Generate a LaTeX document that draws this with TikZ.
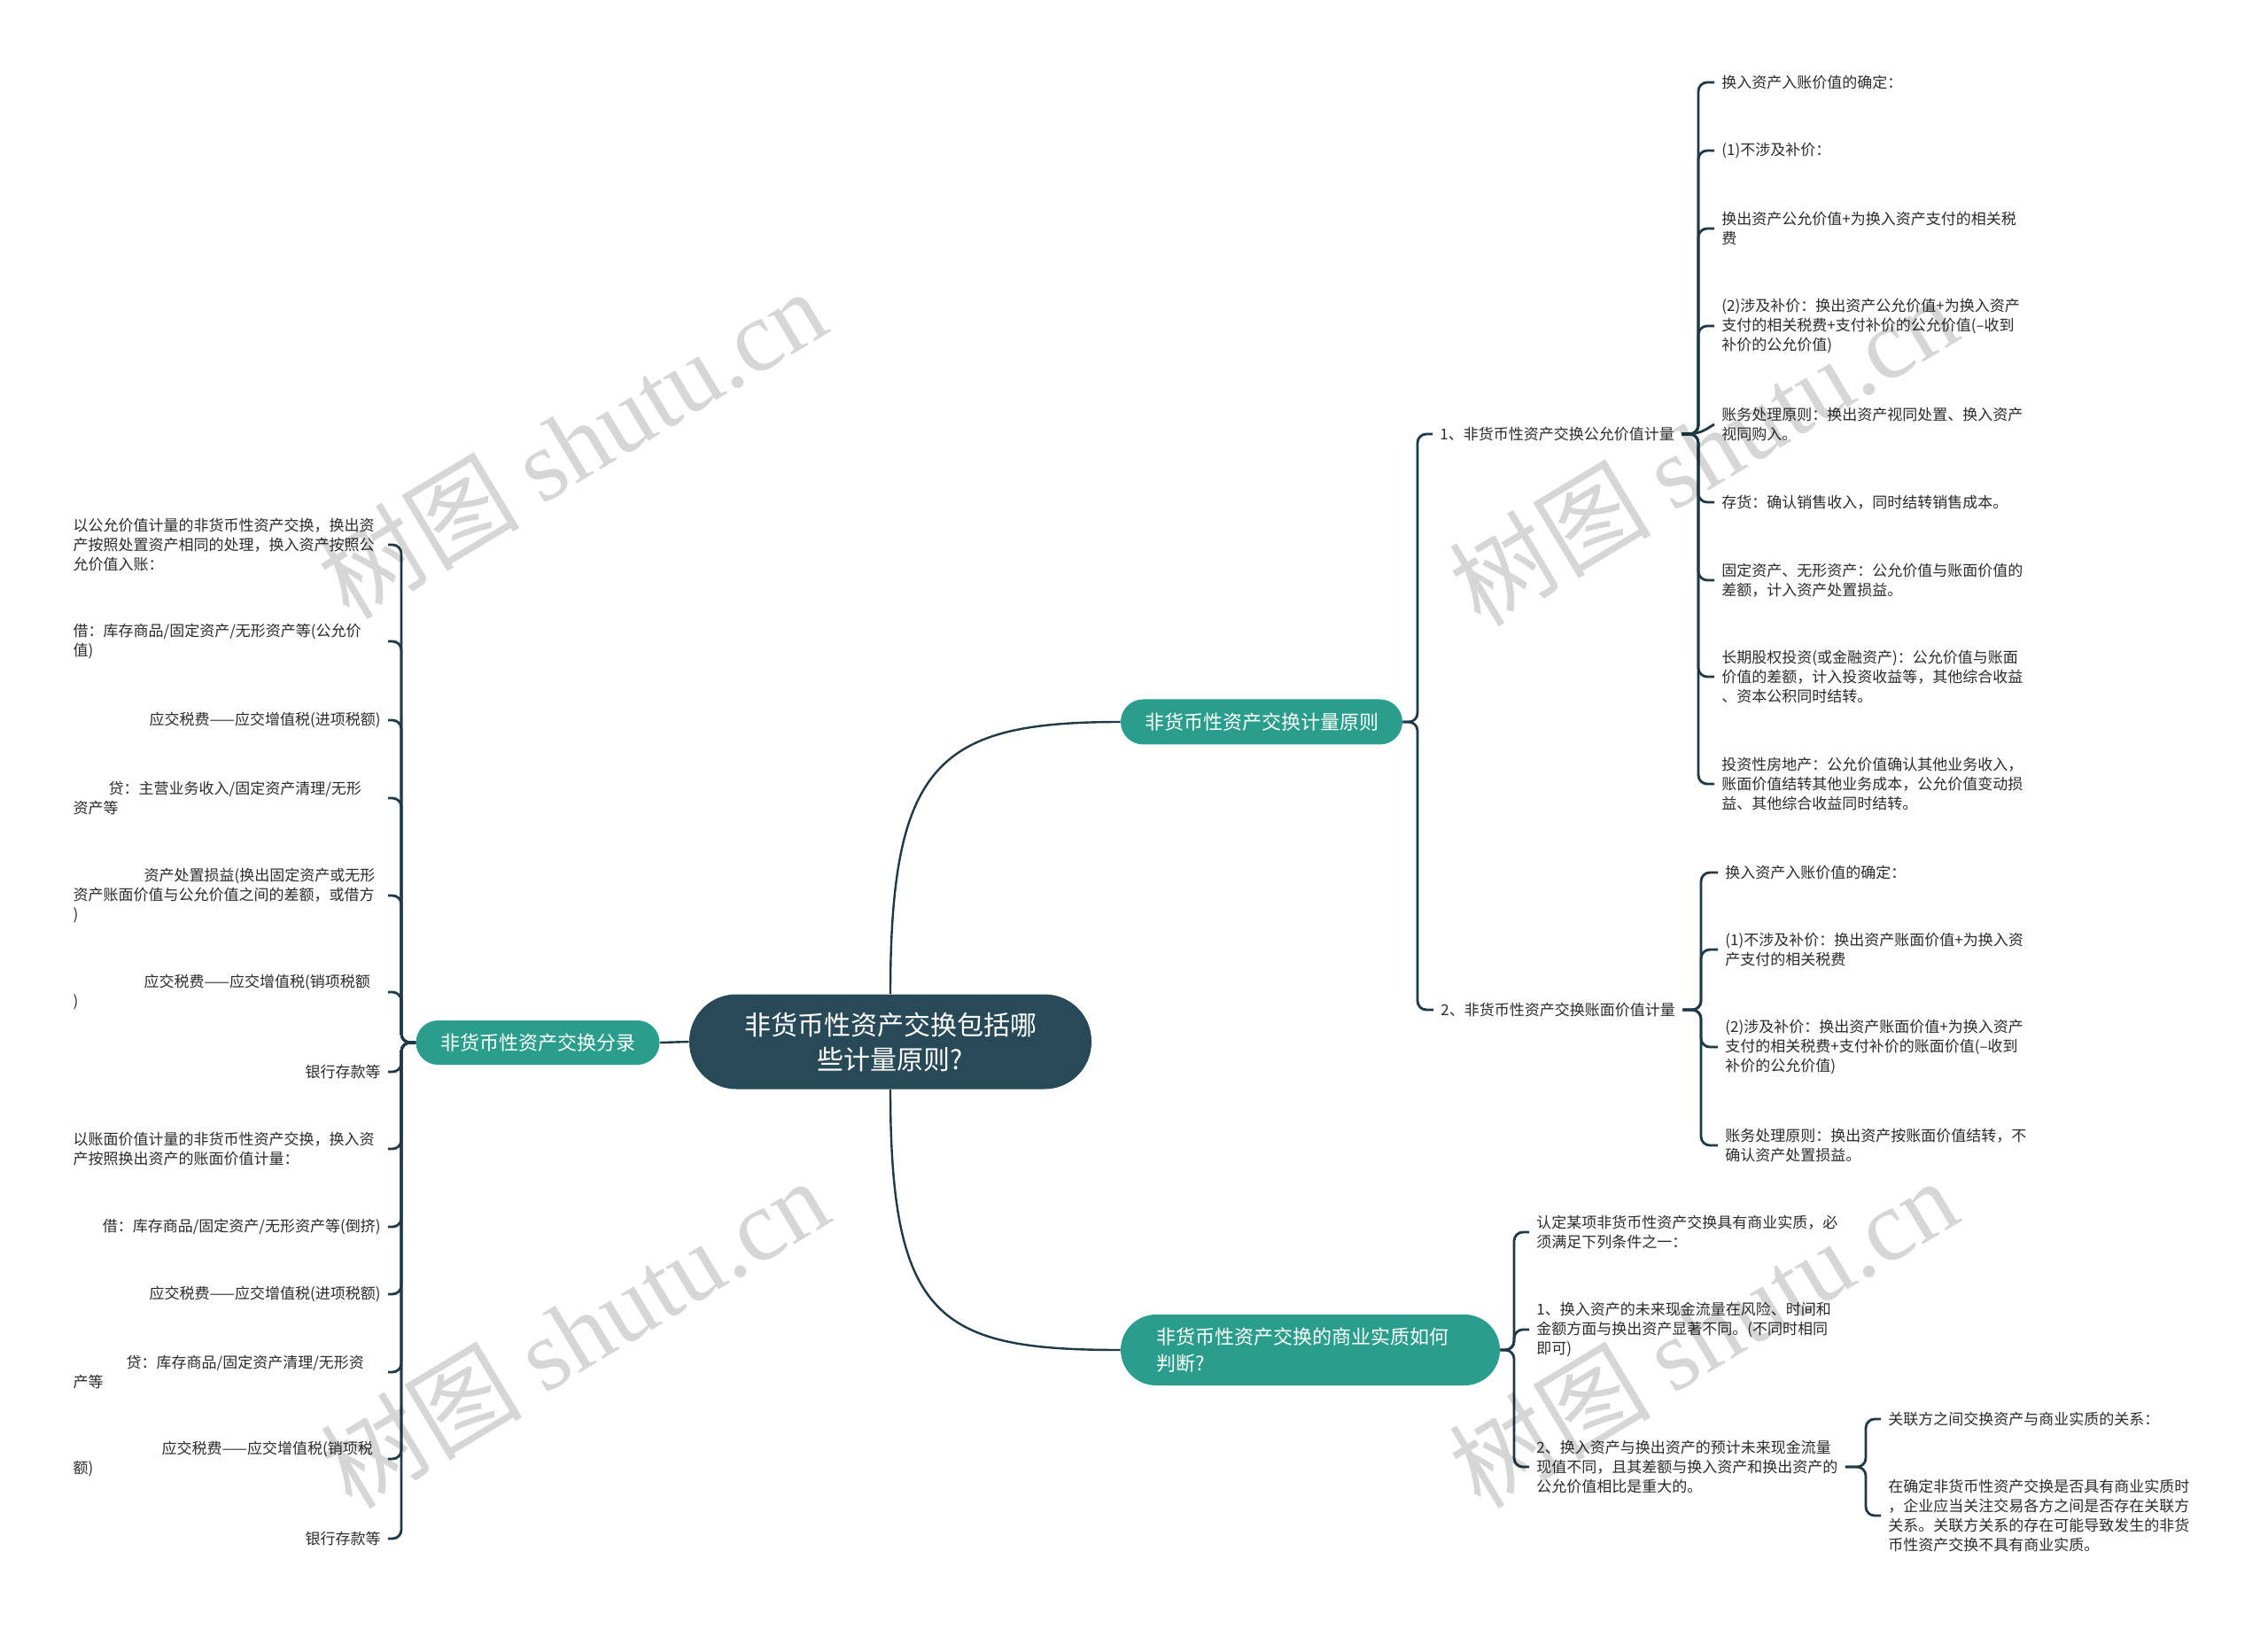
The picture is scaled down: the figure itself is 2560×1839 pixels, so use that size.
\documentclass[tikz,border=0pt]{standalone}
\usepackage{fontspec}
\setmainfont{Noto Sans CJK SC}
\newfontfamily\wmlat{Liberation Serif}
\usetikzlibrary{calc}
\definecolor{cdark}{HTML}{284A58}
\definecolor{cteal}{HTML}{2A9D8C}
\definecolor{cline}{HTML}{1F3A46}
\definecolor{ctext}{HTML}{2B2B2B}
\begin{document}
\begin{tikzpicture}[x=0.5pt,y=-0.5pt,
  conn/.style={draw=cline, line width=1.4pt, rounded corners=5pt},
  mainconn/.style={draw=cline, line width=1.2pt},
  leaf/.style={inner xsep=4pt, inner ysep=1pt, align=left, text=ctext, font=\fontsize{8.5pt}{11pt}\selectfont},
  leafw/.style={leaf, text width=173.5pt},
  rootbox/.style={fill=cdark, text=white, rounded corners=26.5pt, minimum width=227pt, minimum height=53.5pt, align=center, inner sep=0pt, font=\fontsize{15pt}{19.5pt}\selectfont},
  topic/.style={fill=cteal, text=white, inner sep=0pt, align=center, font=\fontsize{11pt}{15pt}\selectfont},
  wm/.style={rotate=31, text=black, text opacity=0.16, inner sep=0pt, font=\fontsize{57pt}{57pt}\selectfont}
]
\useasboundingbox (0,0) rectangle (2560,1839);
\fill[white] (0,0) rectangle (2560,1839);

% ---------- main nodes ----------
\node[rootbox] (c) at (1005,1176) {非货币性资产交换包括哪\\些计量原则?};
\node[topic, minimum width=159pt, minimum height=25.5pt, rounded corners=12.75pt] (n1) at (1424,815) {非货币性资产交换计量原则};
\node[topic, minimum width=137.5pt, minimum height=25pt, rounded corners=12.5pt] (n2) at (607,1177) {非货币性资产交换分录};
\node[topic, text width=174pt, inner xsep=20pt, minimum height=40pt, rounded corners=20pt, align=left] (n3) at (1479,1524) {非货币性资产交换的商业实质如何\\判断?};

\draw[mainconn] (c.north) .. controls (1005,860) and (1060,815) .. (n1.west);
\draw[mainconn] (c.south) .. controls (1005,1490) and (1060,1524) .. (n3.west);
\draw[mainconn] (c.west) -- (n2.east);

% ---------- right upper: level 2 ----------
\node[leaf, anchor=west] (p1) at (1617,490) {1、非货币性资产交换公允价值计量};
\node[leaf, anchor=west] (p2) at (1618,1140) {2、非货币性资产交换账面价值计量};
\coordinate (s1) at (1600,815);
\foreach \ch in {p1,p2} {\draw[conn] (n1.east) -- (s1) -- (s1 |- \ch.west) -- (\ch.west);}

% ---------- group 1 ----------
\node[leaf, anchor=west] (a1) at (1935,93) {换入资产入账价值的确定：};
\node[leaf, anchor=west] (a2) at (1935,170) {(1)不涉及补价：};
\node[leaf, anchor=west] (a3) at (1935,258) {换出资产公允价值+为换入资产支付的相关税\\费};
\node[leaf, anchor=west] (a4) at (1935,368) {(2)涉及补价：换出资产公允价值+为换入资产\\支付的相关税费+支付补价的公允价值(–收到\\补价的公允价值)};
\node[leaf, anchor=west] (a5) at (1935,479) {账务处理原则：换出资产视同处置、换入资产\\视同购入。};
\node[leaf, anchor=west] (a6) at (1935,567) {存货：确认销售收入，同时结转销售成本。};
\node[leaf, anchor=west] (a7) at (1935,655) {固定资产、无形资产：公允价值与账面价值的\\差额，计入资产处置损益。};
\node[leaf, anchor=west] (a8) at (1935,764) {长期股权投资(或金融资产)：公允价值与账面\\价值的差额，计入投资收益等，其他综合收益\\、资本公积同时结转。};
\node[leaf, anchor=west] (a9) at (1935,885) {投资性房地产：公允价值确认其他业务收入，\\账面价值结转其他业务成本，公允价值变动损\\益、其他综合收益同时结转。};
\coordinate (s2) at (1917,490);
\foreach \ch in {a1,a2,a3,a4,a6,a7,a8,a9} {\draw[conn] (p1.east) -- (s2) -- (s2 |- \ch.west) -- (\ch.west);}
\draw[conn] (p1.east) -- (s2) -- (a5.west);

% ---------- group 2 ----------
\node[leaf, anchor=west] (b1) at (1939,985) {换入资产入账价值的确定：};
\node[leaf, anchor=west] (b2) at (1939,1072) {(1)不涉及补价：换出资产账面价值+为换入资\\产支付的相关税费};
\node[leaf, anchor=west] (b3) at (1939,1182) {(2)涉及补价：换出资产账面价值+为换入资产\\支付的相关税费+支付补价的账面价值(–收到\\补价的公允价值)};
\node[leaf, anchor=west] (b4) at (1939,1293) {账务处理原则：换出资产按账面价值结转，不\\确认资产处置损益。};
\coordinate (s3) at (1920,1140);
\foreach \ch in {b1,b2,b3,b4} {\draw[conn] (p2.east) -- (s3) -- (s3 |- \ch.west) -- (\ch.west);}

% ---------- bottom group ----------
\node[leaf, anchor=west] (d1) at (1726,1391) {认定某项非货币性资产交换具有商业实质，必\\须满足下列条件之一：};
\node[leaf, anchor=west] (d2) at (1726,1501) {1、换入资产的未来现金流量在风险、时间和\\金额方面与换出资产显著不同。(不同时相同\\即可)};
\node[leaf, anchor=west] (d3) at (1726,1656) {2、换入资产与换出资产的预计未来现金流量\\现值不同，且其差额与换入资产和换出资产的\\公允价值相比是重大的。};
\coordinate (s4) at (1709,1524);
\foreach \ch in {d1,d2,d3} {\draw[conn] (n3.east) -- (s4) -- (s4 |- \ch.west) -- (\ch.west);}

\node[leaf, anchor=west] (e1) at (2123,1602) {关联方之间交换资产与商业实质的关系：};
\node[leaf, anchor=west] (e2) at (2123,1711) {在确定非货币性资产交换是否具有商业实质时\\，企业应当关注交易各方之间是否存在关联方\\关系。关联方关系的存在可能导致发生的非货\\币性资产交换不具有商业实质。};
\coordinate (s5) at (2106,1656);
\foreach \ch in {e1,e2} {\draw[conn] (d3.east) -- (s5) -- (s5 |- \ch.west) -- (\ch.west);}

% ---------- left group ----------
\node[leafw, anchor=east] (L1) at (438,615) {以公允价值计量的非货币性资产交换，换出资\\产按照处置资产相同的处理，换入资产按照公\\允价值入账：};
\node[leafw, anchor=east] (L2) at (438,724) {借：库存商品/固定资产/无形资产等(公允价\\值)};
\node[leaf, anchor=east] (L3) at (438,813) {应交税费——应交增值税(进项税额)};
\node[leafw, anchor=east] (L4) at (438,901) {\hspace*{20pt}贷：主营业务收入/固定资产清理/无形\\资产等};
\node[leafw, anchor=east] (L5) at (438,1011) {\hspace*{40pt}资产处置损益(换出固定资产或无形\\资产账面价值与公允价值之间的差额，或借方\\)};
\node[leafw, anchor=east] (L6) at (438,1120) {\hspace*{40pt}应交税费——应交增值税(销项税额\\)};
\node[leaf, anchor=east] (L7) at (438,1210) {银行存款等};
\node[leafw, anchor=east] (L8) at (438,1297) {以账面价值计量的非货币性资产交换，换入资\\产按照换出资产的账面价值计量：};
\node[leaf, anchor=east] (L9) at (438,1385) {借：库存商品/固定资产/无形资产等(倒挤)};
\node[leaf, anchor=east] (L10) at (438,1461) {应交税费——应交增值税(进项税额)};
\node[leafw, anchor=east] (L11) at (438,1549) {\hspace*{30pt}贷：库存商品/固定资产清理/无形资\\产等};
\node[leafw, anchor=east] (L12) at (438,1647) {\hspace*{50pt}应交税费——应交增值税(销项税\\额)};
\node[leaf, anchor=east] (L13) at (438,1737) {银行存款等};
\coordinate (sL) at (453,1177);
\foreach \ch in {L1,L2,L3,L4,L5,L6,L7,L8,L9,L10,L11,L12,L13} {\draw[conn] (n2.west) -- (sL) -- (sL |- \ch.east) -- (\ch.east);}

% ---------- watermarks ----------
\node[wm] (w1) at (645,500) {树图 {\wmlat shutu.cn}};
\node[wm] (w2) at (1922,508) {树图 {\wmlat shutu.cn}};
\node[wm] (w3) at (648,1504) {树图 {\wmlat shutu.cn}};
\node[wm] (w4) at (1922,1504) {树图 {\wmlat shutu.cn}};
\end{tikzpicture}
\end{document}
